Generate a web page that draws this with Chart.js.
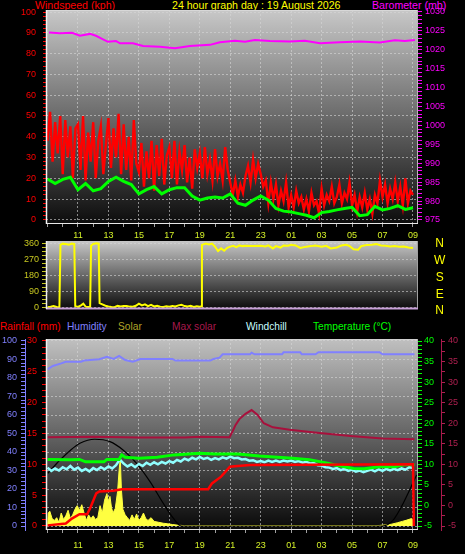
<!DOCTYPE html>
<html>
<head>
<meta charset="utf-8">
<script src="https://cdn.jsdelivr.net/npm/chart.js@4.4.1/dist/chart.umd.min.js"></script>
<style>
  html, body { margin: 0; padding: 0; background: #000; }
  body { width: 465px; height: 554px; position: relative; overflow: hidden; font-family: "Liberation Sans", Arial, sans-serif; }
  canvas { position: absolute; left: 0; }
  .lbl { position: absolute; font-size: 10.6px; line-height: 11px; white-space: nowrap; }
  .leg { font-size: 10.2px; }
</style>
</head>
<body>
<span class="lbl" style="left:35px;top:0;color:#ff0000">Windspeed (kph)</span>
<span class="lbl" style="left:172px;top:0;color:#ffff00">24 hour graph day : 19 August 2026</span>
<span class="lbl" style="left:372px;top:0;color:#ff00ff">Barometer (mb)</span>

<span class="lbl leg" style="left:0;top:321px;color:#ff0000">Rainfall (mm)</span>
<span class="lbl leg" style="left:67px;top:321px;color:#8080ff">Humidity</span>
<span class="lbl leg" style="left:118px;top:321px;color:#b0a428">Solar</span>
<span class="lbl leg" style="left:172px;top:321px;color:#a8184c">Max solar</span>
<span class="lbl leg" style="left:246px;top:321px;color:#c8ffff">Windchill</span>
<span class="lbl leg" style="left:313px;top:321px;color:#00ff00">Temperature (°C)</span>

<canvas id="windChart" width="465" height="240" style="top:0"></canvas>
<canvas id="dirChart" width="465" height="86" style="top:232px"></canvas>
<canvas id="weatherChart" width="465" height="239" style="top:315px"></canvas>

<script>
// ---- x axis (hours; 24 = midnight) ----
const hourTicks  = [11, 13, 15, 17, 19, 21, 23, 25, 27, 29, 31, 33];
const hourLabels = ['11', '13', '15', '17', '19', '21', '23', '01', '03', '05', '07', '09'];

// ---- tick values ----
const windTicks = [0, 10, 20, 30, 40, 50, 60, 70, 80, 90, 100];
const baroTicks = [975, 980, 985, 990, 995, 1000, 1005, 1010, 1015, 1020, 1025, 1030];
const dirTicks = [0, 90, 180, 270, 360];
const compassTicks = [0, 1, 2, 3, 4];
const compassLabels = ['N', 'E', 'S', 'W', 'N'];
const humTicks = [0, 10, 20, 30, 40, 50, 60, 70, 80, 90, 100];
const rainTicks = [0, 5, 10, 15, 20, 25, 30];
const tempTicks = [-5, 0, 5, 10, 15, 20, 25, 30, 35, 40];

// ---- wind gust (kph), every 10 minutes from 09:00 ----
const gustValues = [
  38, 52, 28, 47, 32, 50,
  22, 48, 30, 45, 20, 44,
  46, 24, 50, 19, 42, 28,
  47, 20, 38, 45, 22, 36,
  49, 25, 44, 30, 51, 22,
  46, 24, 40, 19, 48, 27,
  23, 37, 16, 33, 20, 38,
  14, 36, 21, 39, 17, 31,
  35, 20, 38, 17, 33, 24,
  36, 18, 30, 15, 34, 25,
  32, 20, 35, 22, 29, 19,
  34, 21, 27, 19, 35, 24,
  18, 12, 19, 11, 17, 13,
  21, 26, 18, 29, 20, 27,
  22, 16, 19, 8, 18, 10,
  17, 7, 14, 9, 18, 6,
  12, 6, 14, 8, 11, 5,
  10, 4, 13, 7, 9, 3,
  15, 7, 12, 9, 16, 8,
  11, 17, 8, 13, 10, 18,
  7, 12, 4, 11, 6, 13,
  5, 10, 3, 12, 8, 19,
  11, 17, 8, 15, 10, 18,
  9, 16, 7, 20, 8, 14,
  12
];

// ---- average wind (kph), every 30 minutes from 09:00 ----
const windAvgValues = [
  19.7, 17.5, 19.5, 20.5, 14.5, 17.5, 14.0, 15.0, 18.5, 20.5,
  18.5, 17.0, 12.5, 14.5, 16.0, 12.5, 14.5, 15.5, 15.5, 11.5,
  9.5, 10.5, 11.0, 10.5, 12.5, 8.0, 7.0, 9.5, 11.5, 9.5,
  5.5, 4.2, 3.8, 3.0, 2.2, 1.0, 3.5, 4.0, 4.8, 5.5,
  6.0, 2.0, 2.5, 6.5, 4.8, 5.5, 6.8, 5.0, 5.8
];

// ---- barometer (mb) ----
const baroHours = [9.1, 9.82, 10.61, 11.13, 11.79, 12.18, 12.58, 12.97, 13.5, 13.76, 14.61, 15.27, 16.38, 17.37, 18.35,
  19.67, 20.32, 21.31, 21.97, 22.62, 23.61, 24.92, 25.9, 26.89, 28.2, 29.52, 30.83, 31.81, 32.47, 33.13];
const baroValues = [1024.6, 1024.4, 1024.5, 1023.7, 1024.2, 1023.7, 1022.9, 1022.1, 1022.3, 1021.7, 1021.7, 1021.0, 1020.8, 1020.4, 1021.0,
  1021.3, 1022.0, 1022.4, 1022.1, 1022.6, 1022.3, 1022.2, 1022.4, 1021.7, 1022.0, 1022.2, 1021.9, 1022.5, 1022.3, 1022.6];

// ---- wind direction (degrees) ----
const dirHours = [9.0, 9.2, 9.4, 9.6, 9.78, 9.85, 10.0, 10.2, 10.4, 10.6, 10.76, 10.82, 11.0, 11.2, 11.35, 11.5, 11.7, 11.8, 11.86,
  12.0, 12.2, 12.36, 12.42, 12.6, 12.8, 13.0, 13.2, 13.4, 13.6, 13.8, 14.0, 14.2, 14.4, 14.6, 14.8, 15.0, 15.2, 15.4, 15.6, 15.8,
  16.0, 16.2, 16.4, 16.6, 16.8, 17.0, 17.2, 17.4, 17.6, 17.8, 18.0, 18.2, 18.4, 18.6, 18.8, 19.0, 19.08, 19.14, 19.4, 19.6, 19.8,
  20.0, 20.2, 20.4, 20.6, 20.8, 21.0, 21.2, 21.4, 21.6, 21.8, 22.0, 22.5, 23.0, 23.3, 23.5, 23.8, 24.0, 24.3, 24.5, 24.8,
  25.0, 25.3, 25.6, 26.0, 26.3, 26.6, 27.0, 27.3, 27.6, 28.0, 28.3, 28.6, 28.8, 29.1, 29.4, 29.6, 29.8, 30.0, 30.3, 30.6,
  30.9, 31.2, 31.5, 31.8, 32.1, 32.4, 32.7, 33.0];
const dirValues = [2, 4, 8, 3, 2, 355, 362, 360, 356, 362, 360, 8, 3, 12, 22, 5, 3, 4, 350,
  360, 364, 362, 25, 18, 10, 6, 3, 2, 10, 6, 9, 8, 5, 4, 10, 22, 12, 18, 8, 15,
  6, 10, 5, 3, 7, 4, 9, 6, 12, 15, 8, 6, 10, 3, 7, 4, 6, 355, 362, 358, 362,
  345, 320, 335, 322, 338, 345, 350, 342, 352, 348, 350, 349, 350, 346, 352, 335, 348, 340, 352, 350,
  356, 352, 338, 345, 348, 352, 345, 350, 335, 340, 352, 355, 350, 330, 328, 348, 352, 355, 356, 360,
  352, 350, 346, 348, 344, 346, 340, 338];

// ---- humidity (%) ----
const humHours = [9.0, 9.35, 9.9, 10.2, 11.2, 11.4, 12.4, 12.9, 13.35, 13.7, 14.1, 14.6, 15.1, 17.2, 17.4, 19.7, 19.9, 20.3,
  20.5, 22.3, 22.4, 22.6, 24.4, 24.5, 25.6, 25.7, 26.6, 26.8, 30.8, 31.0, 33.1];
const humValues = [84.7, 86.5, 87.9, 88.8, 88.8, 89.4, 90.1, 91.5, 90.3, 91.9, 89.7, 88.8, 90.3, 90.3, 89.4, 89.4, 90.3, 91.0,
  92.8, 92.8, 93.7, 92.8, 92.8, 93.9, 93.9, 92.8, 92.8, 93.9, 93.9, 92.8, 92.8];

// ---- temperature (°C) ----
const tempHours = [9.0, 10.5, 11.1, 11.5, 12.7, 12.9, 13.7, 13.87, 14.1, 15.0, 16.2, 17.3, 19.0, 20.0, 21.5, 22.9, 25.1,
  26.2, 27.4, 27.8, 29.1, 29.8, 30.8, 31.8, 32.4, 33.1];
const tempValues = [11.2, 11.1, 11.2, 10.6, 10.6, 11.2, 11.2, 12.3, 11.7, 11.5, 11.7, 12.3, 12.7, 12.5, 12.5, 12.0, 11.5,
  11.1, 10.3, 9.9, 9.0, 8.9, 9.4, 9.4, 9.9, 9.9];

// ---- windchill (°C), every 15 minutes from 09:00 ----
const chillValues = [
  9.2, 8.4, 9.0, 8.5,   9.3, 8.8, 9.6, 8.7,   9.2, 8.4, 8.9, 8.3,   9.1, 8.6, 9.3, 8.8,
  9.5, 9.0, 9.8, 11.2,  10.2, 9.5, 10.0, 9.3, 10.1, 9.6, 10.4, 9.9, 10.5, 10.0, 10.6, 10.2,
  10.8, 10.4, 11.1, 10.7, 11.4, 11.0, 11.6, 11.2, 11.8, 11.3, 11.6, 11.1, 11.5, 11.2, 11.7, 11.4,
  11.9, 11.5, 11.6, 11.2, 11.3, 10.9, 11.0, 10.6, 10.8, 10.5, 10.9, 10.6, 10.9, 10.6, 10.9, 10.7,
  10.9, 10.6, 10.8, 10.4, 10.6, 10.2, 10.3, 9.8,  9.7, 9.3, 9.2, 8.9,   9.1, 8.6, 8.9, 8.4,
  8.7, 8.2, 8.5, 8.1,   8.4, 8.7, 8.3, 8.8,   8.4, 8.9, 8.5, 8.9,   8.6, 9.0, 8.7, 9.3,
  9.1
];

// ---- rainfall, cumulative (mm) ----
const rainHours = [9.0, 10.2, 10.6, 11.1, 11.6, 11.8, 12.2, 12.4, 13.3, 13.9, 19.55, 19.8, 20.4, 20.98, 21.3, 22.3, 33.0, 33.06];
const rainValues = [0.1, 0.4, 1.2, 1.9, 1.9, 2.9, 5.3, 5.6, 5.7, 5.95, 5.95, 6.9, 8.0, 9.6, 9.7, 9.9, 10.0, 0];

// ---- max solar line (right crimson axis) ----
const maxSolarHours = [9.0, 12.0, 15.0, 18.0, 19.0, 20.95, 21.15, 21.35, 21.6, 22.0, 22.4, 22.8, 23.2, 23.8, 24.9, 26.7, 28.9, 31.0, 33.1];
const maxSolarValues = [16.6, 16.7, 16.5, 16.5, 16.7, 16.6, 18.0, 19.6, 21.0, 22.3, 23.2, 22.0, 20.0, 19.0, 18.4, 17.7, 16.9, 16.3, 16.1];

// ---- solar radiation (W/m²) ----
const solarHours = [9.0, 9.05, 9.15, 9.3, 9.45, 9.6, 9.75, 9.9, 10.05, 10.2, 10.35, 10.5, 10.65, 10.8, 10.95, 11.1, 11.25, 11.4,
  11.55, 11.7, 11.85, 12.0, 12.15, 12.3, 12.45, 12.6, 12.75, 12.9, 13.0, 13.1, 13.2, 13.3, 13.45, 13.6, 13.7, 13.78, 13.85,
  13.95, 14.1, 14.25, 14.4, 14.55, 14.7, 14.85, 15.0, 15.15, 15.3, 15.45, 15.6, 15.8, 16.0, 16.3, 16.6, 16.9, 17.2, 17.6,
  18.0, 30.5, 30.8, 31.2, 31.6, 32.0, 32.3, 32.6, 32.9, 33.0, 33.05];
const solarValues = [0, 70, 80, 40, 30, 45, 20, 70, 35, 55, 85, 40, 60, 90, 110, 85, 115, 70,
  30, 60, 40, 55, 35, 45, 110, 70, 140, 175, 130, 160, 100, 70, 95, 185, 300, 365, 200,
  90, 60, 45, 30, 60, 35, 65, 30, 45, 70, 40, 30, 45, 25, 20, 15, 12, 8, 4,
  2, 2, 3, 6, 10, 18, 25, 32, 40, 35, 0];

// ---- theoretical solar curve (W/m²) ----
const sunHours = [9.02, 9.82, 10.47, 11.13, 12.1, 13.1, 13.96, 14.85, 15.73, 16.6, 17.26, 17.8, 31.0, 31.7, 32.36, 33.24];
const sunValues = [285, 357, 407, 447, 469, 456, 411, 339, 240, 123, 42, 0, 0, 32, 123, 276];

// ---- helpers ----
const X_MIN = 8.9, X_MAX = 33.33;
const GRID = 'rgba(215,215,215,0.6)';
const NONE = 'rgba(0,0,0,0)';
const XLABEL = '#d4f028';

Chart.defaults.font.family = '"Liberation Sans", Arial, sans-serif';
Chart.defaults.font.size = 9;

function stepValues(from, to, step) {
  const out = [];
  for (let i = 0; from + i * step <= to + 1e-9; i++) out.push(from + i * step);
  return out;
}

function evenHours(start, step, count) {
  return Array.from({ length: count }, (_, i) => start + i * step);
}

function points(hours, values) {
  return values.map((v, i) => ({ x: hours[i], y: v }));
}

function yAxis(o) {
  const all = o.minor || o.major;
  return {
    type: 'linear',
    display: o.display !== false,
    position: o.position,
    weight: o.weight || 0,
    min: o.min,
    max: o.max,
    afterFit: (s) => {
      s.width = o.width;
      // keep label overhang from shrinking the plot area
      s.paddingTop = 0;
      s.paddingBottom = 0;
    },
    afterBuildTicks: (s) => { s.ticks = all.map((v) => ({ value: v })); },
    border: { display: !!o.borderColor, color: o.borderColor, dash: [2, 2] },
    grid: {
      drawOnChartArea: !!o.gridOnChart,
      color: (c) => o.major.includes(c.tick.value) ? GRID : NONE,
      tickColor: o.tickColor || o.color,
      tickLength: o.tickLength ?? 4,
    },
    ticks: {
      color: o.color,
      padding: o.padding ?? 3,
      autoSkip: false,
      crossAlign: o.crossAlign || 'near',
      font: { size: o.fontSize || 9 },
      callback: (v) => {
        const i = o.major.indexOf(v);
        if (i < 0) return '';
        return o.labels ? o.labels[i] : String(v);
      },
    },
  };
}

function timeAxis(o) {
  const all = stepValues(9, 33, 1);
  return {
    type: 'linear',
    display: o.display !== false,
    min: X_MIN,
    max: X_MAX,
    afterFit: (s) => { s.height = o.height; },
    afterBuildTicks: (s) => { s.ticks = all.map((v) => ({ value: v })); },
    border: { display: false, dash: [2, 2] },
    grid: {
      drawOnChartArea: o.gridOnChart !== false,
      color: (c) => hourTicks.includes(c.tick.value) ? GRID : NONE,
      tickColor: '#a0a0a0',
      tickLength: 3,
    },
    ticks: {
      color: XLABEL,
      padding: o.padding,
      autoSkip: false,
      maxRotation: 0,
      minRotation: 0,
      font: { size: 9 },
      callback: (v) => {
        const i = hourTicks.indexOf(v);
        return i < 0 ? '' : hourLabels[i];
      },
    },
  };
}

// gradient backdrop + 3d frame around the plot area
const plotBackdrop = {
  id: 'plotBackdrop',
  beforeDraw(chart, args, opts) {
    const { ctx, chartArea: a } = chart;
    const g = ctx.createLinearGradient(0, a.top, 0, a.bottom);
    g.addColorStop(0, opts.top);
    g.addColorStop(1, opts.bottom);
    ctx.save();
    ctx.fillStyle = g;
    ctx.fillRect(a.left, a.top, a.right - a.left, a.bottom - a.top);
    ctx.restore();
  },
  afterDatasetsDraw(chart, args, opts) {
    const { ctx, chartArea: a } = chart;
    const f = opts.frame;
    const line = (x1, y1, x2, y2, color, w) => {
      if (!color) return;
      ctx.strokeStyle = color;
      ctx.lineWidth = w || 1;
      ctx.beginPath();
      ctx.moveTo(x1, y1);
      ctx.lineTo(x2, y2);
      ctx.stroke();
    };
    ctx.save();
    line(a.left, a.top + 0.5, a.right, a.top + 0.5, f.top);
    line(a.right - 0.5, a.top, a.right - 0.5, a.bottom, f.right);
    line(a.left, a.bottom - 0.5, a.right, a.bottom - 0.5, f.bottom, f.bottomWidth);
    line(a.left + 0.5, a.top, a.left + 0.5, a.bottom, f.left, 1.5);
    ctx.restore();
  },
};

function baseOptions(padding, scales, backdrop) {
  return {
    responsive: false,
    animation: false,
    devicePixelRatio: 1,
    layout: { padding, autoPadding: false },
    elements: { point: { radius: 0 }, line: { tension: 0 } },
    plugins: { legend: { display: false }, tooltip: { enabled: false }, plotBackdrop: backdrop },
    scales,
  };
}

// ---- windspeed + barometer ----
new Chart(document.getElementById('windChart'), {
  type: 'line',
  data: {
    datasets: [
      { data: points(evenHours(9, 0.5, windAvgValues.length), windAvgValues), borderColor: '#00ff00', borderWidth: 3, yAxisID: 'yWind' },
      { data: points(evenHours(9, 1 / 6, gustValues.length), gustValues), borderColor: '#ff0000', borderWidth: 2.4, yAxisID: 'yWind' },
      { data: points(baroHours, baroValues), borderColor: '#ff00ff', borderWidth: 2, yAxisID: 'yBaro' },
    ],
  },
  options: baseOptions({ top: 10, left: 0, right: 0, bottom: 0 }, {
    x: timeAxis({ height: 16, padding: 3 }),
    yWind: yAxis({ position: 'left', min: -2, max: 101, width: 46, major: windTicks, minor: stepValues(0, 100, 2),
      color: '#ff0000', tickLength: 3, padding: 7, gridOnChart: true }),
    yBaro: yAxis({ position: 'right', min: 973.94, max: 1030.52, width: 47, major: baroTicks, minor: stepValues(975, 1030, 1),
      color: '#ff00ff', tickLength: 4, padding: 3 }),
  }, { top: '#c8c8c8', bottom: '#0c0c0c', frame: { top: '#d8d8d8', left: '#f4f4f4', right: '#b8b8b8', bottom: '#e8e8e8' } }),
  plugins: [plotBackdrop],
});

// ---- wind direction ----
new Chart(document.getElementById('dirChart'), {
  type: 'line',
  data: {
    datasets: [
      { data: points(dirHours, dirValues), borderColor: '#ffff00', borderWidth: 2, yAxisID: 'yDir' },
    ],
  },
  options: baseOptions({ top: 9, left: 0, right: 5, bottom: 9 }, {
    x: timeAxis({ height: 0, padding: 0, display: false }),
    yDir: yAxis({ position: 'left', min: -8.5, max: 377, width: 46, major: dirTicks, minor: stepValues(0, 360, 22.5),
      color: '#c8c820', tickLength: 4, padding: 3, gridOnChart: true }),
    yCompass: yAxis({ position: 'right', min: 0.119, max: 4.179, width: 42, major: compassTicks, labels: compassLabels,
      color: '#ffff00', tickColor: NONE, tickLength: 16, padding: 0, crossAlign: 'center', fontSize: 12 }),
  }, { top: '#c8c8c8', bottom: '#0a0a0a', frame: { top: null, left: '#f0f0f0', right: '#a0a0a0', bottom: '#c8a0d8', bottomWidth: 2 } }),
  plugins: [plotBackdrop],
});

// ---- rain, humidity, solar, temperature ----
new Chart(document.getElementById('weatherChart'), {
  type: 'line',
  data: {
    datasets: [
      { data: points(rainHours, rainValues), borderColor: '#ff0000', borderWidth: 2.5, yAxisID: 'yRain' },
      { data: points(tempHours, tempValues), borderColor: '#00ff00', borderWidth: 3, yAxisID: 'yTemp' },
      { data: points(evenHours(9, 0.25, chillValues.length), chillValues), borderColor: '#90ffff', borderWidth: 2.5, yAxisID: 'yTemp' },
      { data: points(humHours, humValues), borderColor: '#8080ff', borderWidth: 2, yAxisID: 'yHum' },
      { data: points(maxSolarHours, maxSolarValues), borderColor: '#a8103c', borderWidth: 2, yAxisID: 'yMax' },
      { data: points(sunHours, sunValues), borderColor: '#000000', borderWidth: 1.2, cubicInterpolationMode: 'monotone', yAxisID: 'ySolar' },
      { data: points(solarHours, solarValues), borderColor: '#ffff40', backgroundColor: '#ffff40', borderWidth: 1, fill: 'origin', yAxisID: 'ySolar' },
    ],
  },
  options: baseOptions({ top: 24, left: 0, right: 0, bottom: 0 }, {
    x: timeAxis({ height: 24, padding: 7 }),
    yHum: yAxis({ position: 'left', weight: 1, min: -2.16, max: 101.08, width: 25, major: humTicks, minor: stepValues(0, 100, 2),
      color: '#8080ff', tickLength: 4, padding: 4, gridOnChart: true, borderColor: '#8080ff' }),
    yRain: yAxis({ position: 'left', weight: 0, min: -0.649, max: 30.32, width: 21, major: rainTicks, minor: stepValues(0, 30, 1),
      color: '#ff0000', tickLength: 4, padding: 5 }),
    yTemp: yAxis({ position: 'right', weight: 0, min: -5.973, max: 40.49, width: 23, major: tempTicks, minor: stepValues(-5, 40, 1),
      color: '#00ff00', tickLength: 4, padding: 2 }),
    yMax: yAxis({ position: 'right', weight: 1, min: -5.973, max: 40.49, width: 24, major: tempTicks, minor: stepValues(-5, 40, 2.5),
      color: '#b02050', tickLength: 4, padding: 3, borderColor: '#a8184c' }),
    ySolar: yAxis({ display: false, position: 'right', min: -21.6, max: 1010.8, width: 0, major: [0], color: NONE }),
  }, { top: '#c0c0c0', bottom: '#080808', frame: { top: '#d0d0d0', left: '#f0f0f0', right: '#b0b0b0', bottom: '#e8e8e8' } }),
  plugins: [plotBackdrop],
});
</script>
</body>
</html>
